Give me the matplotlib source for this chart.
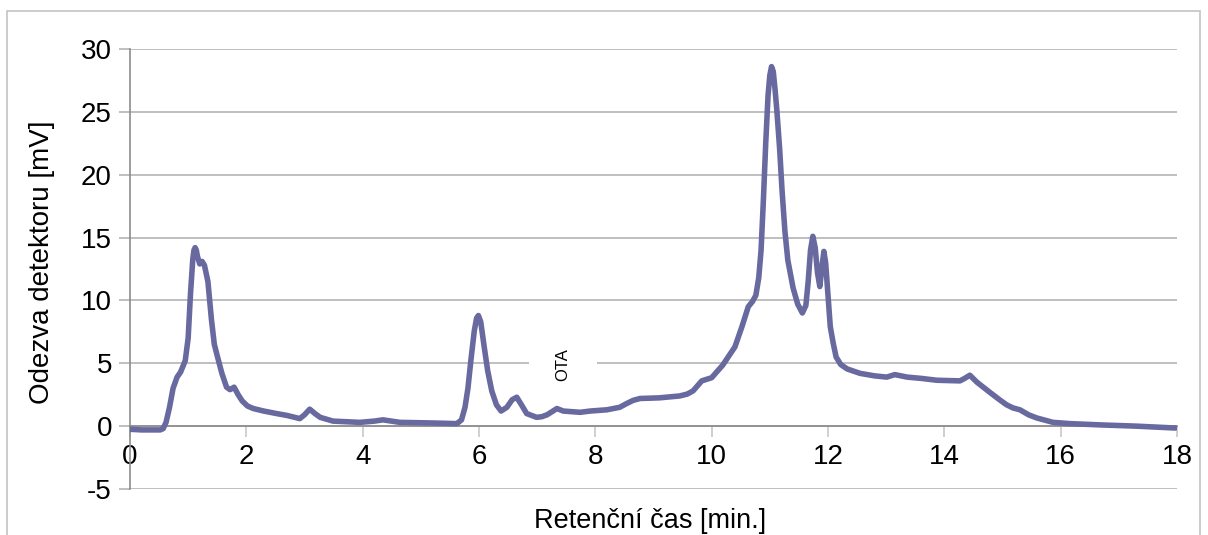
import matplotlib
matplotlib.use("Agg")
import matplotlib.pyplot as plt
from matplotlib.patches import Rectangle

plt.rcParams["font.family"] = ["Liberation Sans", "DejaVu Sans"]
plt.rcParams["axes.unicode_minus"] = False

LINE, GRID, AXIS = "#67699f", "#b4b4b4", "#8c8c8c"

# retenční čas [min] a odezva [mV], odečteno z chromatogramu
time = [0.00, 0.20, 0.40, 0.52, 0.57, 0.62, 0.68, 0.74, 0.81, 0.87, 0.95, 1.00,
        1.04, 1.08, 1.10, 1.12, 1.14, 1.16, 1.20, 1.24, 1.28, 1.34, 1.40, 1.45,
        1.50, 1.58, 1.66, 1.72, 1.79, 1.86, 1.93, 2.02, 2.12, 2.30, 2.52, 2.70,
        2.92, 3.00, 3.09, 3.18, 3.27, 3.49, 3.95, 4.20, 4.35, 4.64, 5.21, 5.62,
        5.70, 5.76, 5.81, 5.86, 5.92, 5.96, 5.99, 6.03, 6.09, 6.15, 6.22, 6.30,
        6.38, 6.48, 6.57, 6.65, 6.73, 6.82, 6.99, 7.08, 7.17, 7.27, 7.34, 7.45,
        7.74, 7.91, 8.20, 8.42, 8.54, 8.65, 8.77, 9.10, 9.45, 9.58, 9.68, 9.83,
        10.00, 10.19, 10.40, 10.52, 10.63, 10.70, 10.76, 10.81, 10.85, 10.89, 10.93,
        10.97, 11.00, 11.03, 11.06, 11.09, 11.12, 11.17, 11.21, 11.26, 11.31, 11.40,
        11.48, 11.56, 11.62, 11.66, 11.70, 11.74, 11.78, 11.82, 11.86, 11.90, 11.93,
        11.96, 12.00, 12.04, 12.09, 12.14, 12.22, 12.33, 12.55, 12.80, 13.01, 13.15,
        13.36, 13.60, 13.87, 14.27, 14.35, 14.44, 14.56, 14.78, 14.95, 15.07, 15.18,
        15.30, 15.45, 15.59, 15.87, 16.16, 16.67, 17.30, 17.97]
signal = [-0.25, -0.30, -0.30, -0.30, -0.20, 0.30, 1.50, 3.00, 3.90, 4.30, 5.20, 7.00,
          10.5, 13.3, 14.0, 14.2, 14.0, 13.5, 12.9, 13.1, 12.8, 11.5, 8.5, 6.5,
          5.6, 4.2, 3.1, 2.9, 3.1, 2.5, 2.0, 1.6, 1.4, 1.2, 1.0, 0.85,
          0.6, 0.9, 1.35, 1.0, 0.7, 0.4, 0.3, 0.4, 0.5, 0.3, 0.25, 0.2,
          0.5, 1.5, 3.0, 5.2, 7.6, 8.6, 8.8, 8.3, 6.3, 4.4, 2.8, 1.7,
          1.2, 1.5, 2.1, 2.3, 1.7, 1.0, 0.7, 0.75, 0.9, 1.2, 1.4, 1.2,
          1.1, 1.2, 1.3, 1.5, 1.8, 2.05, 2.2, 2.25, 2.4, 2.55, 2.8, 3.6,
          3.85, 4.85, 6.3, 7.9, 9.5, 9.9, 10.4, 11.8, 14.0, 18.0, 22.5,
          26.3, 27.9, 28.6, 28.2, 26.8, 25.2, 22.0, 18.8, 15.5, 13.2, 11.0,
          9.7, 9.0, 9.6, 11.5, 14.0, 15.1, 14.2, 12.2, 11.1, 12.8, 13.9,
          13.0, 10.5, 7.9, 6.6, 5.5, 4.9, 4.55, 4.2, 4.0, 3.9, 4.1,
          3.9, 3.8, 3.65, 3.6, 3.8, 4.05, 3.5, 2.7, 2.1, 1.7, 1.45,
          1.3, 0.9, 0.65, 0.3, 0.2, 0.1, 0.0, -0.15]

xticks = list(range(0, 19, 2))
yticks = list(range(-5, 31, 5))

fig = plt.figure(figsize=(12.08, 5.35), dpi=100)
fig.patches.append(Rectangle((0.006, -0.01), 0.987, 0.99, transform=fig.transFigure,
                             fill=False, edgecolor="#c4c4c4", linewidth=1.2))
ax = fig.add_axes([0.1076, 0.086, 0.8667, 0.8224])

ax.plot(time, signal, color=LINE, lw=4.0, solid_joinstyle="round",
        solid_capstyle="round", zorder=3)

ax.set_xlim(0, 18)
ax.set_ylim(-5, 30)
ax.set_xticks(xticks)
ax.set_yticks(yticks)
ax.yaxis.grid(True, color=GRID, lw=1.2)
ax.set_axisbelow(True)

for s in ("top", "right"):
    ax.spines[s].set_visible(False)
ax.spines["bottom"].set_position(("data", 0))
ax.spines["bottom"].set_color(AXIS)
ax.spines["left"].set_color(AXIS)
ax.spines["bottom"].set_linewidth(1.2)
ax.spines["left"].set_linewidth(1.2)
ax.tick_params(axis="x", direction="out", length=8, color="#c8c8c8", width=1.2,
               labelsize=20, pad=5)
ax.tick_params(axis="y", direction="out", length=8, color=GRID, width=1.2,
               labelsize=20, pad=5)

ax.text(7.44, 4.9, "OTA", rotation=90, ha="center", va="center", fontsize=12,
        bbox=dict(facecolor="white", edgecolor="none", pad=19), zorder=2)

fig.text(0.538, 0.027, "Retenční čas [min.]", ha="center", va="center", fontsize=19.5)
fig.text(0.035, 0.51, "Odezva detektoru [mV]", ha="center", va="center",
         rotation=90, fontsize=20)

fig.savefig("out.png", dpi=100)
